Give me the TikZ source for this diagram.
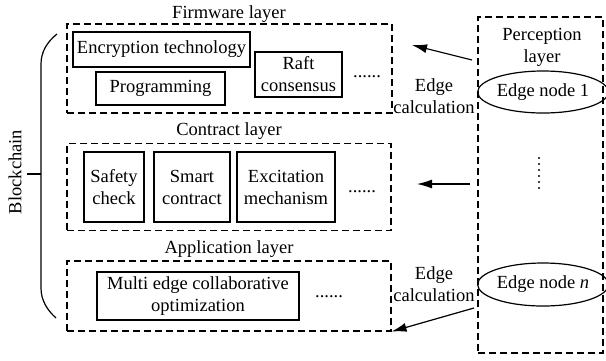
\documentclass[tikz,border=0pt]{standalone}
\usepackage{fontspec}
\setmainfont{Liberation Serif}
\usetikzlibrary{arrows.meta,shapes.geometric}
\begin{document}
\begin{tikzpicture}[x=1pt,y=-1pt,
  font=\fontsize{18.5}{22}\selectfont,
  layerbox/.style={draw, line width=1.1pt, dash pattern=on 7pt off 4pt, inner sep=0pt},
  itembox/.style={draw, line width=1.2pt, align=center, inner sep=0pt},
  edgenode/.style={draw, ellipse, line width=1.2pt, inner sep=0pt, minimum width=118pt, minimum height=42pt},
  lbl/.style={align=center, inner sep=0pt},
  arr/.style={line width=1.2pt, -{Latex[length=15pt,width=9pt]}},
  brace/.style={line width=1.2pt}
]
\useasboundingbox (0,0) rectangle (606,360);

% layer boxes
\node[layerbox, minimum width=325pt, minimum height=89pt] (fw) at (229.5,68.5) {};
\node[layerbox, minimum width=324pt, minimum height=87pt] (ct) at (229,187) {};
\node[layerbox, minimum width=324pt, minimum height=70pt] (ap) at (229,296) {};
\node[layerbox, minimum width=125pt, minimum height=336pt] (pc) at (540.5,185) {};

% layer titles
\node[lbl, anchor=base] (fwt) at (229,18) {Firmware layer};
\node[lbl, anchor=base] (ctt) at (229,135) {Contract layer};
\node[lbl, anchor=base] (apt) at (229,253) {Application layer};
\node[lbl] (pct) at (542,47) {Perception\\layer};

% firmware items
\node[itembox, minimum width=177pt, minimum height=35pt] (enc) at (161.5,49.5) {Encryption technology};
\node[itembox, minimum width=129pt, minimum height=33pt] (prog) at (160.5,88.5) {Programming};
\node[itembox, minimum width=87pt, minimum height=45pt] (raft) at (298.5,74.5) {Raft\\consensus};
\node[lbl] (d1) at (367,77) {......};

% contract items
\node[itembox, minimum width=60pt, minimum height=70pt] (safe) at (114,187) {Safety\\check};
\node[itembox, minimum width=76pt, minimum height=70pt] (smart) at (192,187) {Smart\\contract};
\node[itembox, minimum width=98pt, minimum height=70pt] (exc) at (286,187) {Excitation\\mechanism};
\node[lbl] (d2) at (362,192) {......};

% application items
\node[itembox, minimum width=202pt, minimum height=48pt] (multi) at (198,296) {Multi edge collaborative\\optimization};
\node[lbl] (d3) at (329,297) {......};

% perception items
\node[edgenode] (e1) at (543,92) {Edge node 1};
\node[edgenode, minimum height=43pt] (en) at (543,284.5) {Edge node \textit{n}};
\foreach \yy in {158,164,170,176,182,188} \fill (539,\yy) circle (1.1pt);

% edge calculation labels
\node[lbl] (ec1) at (434,96) {Edge\\calculation};
\node[lbl] (ec2) at (434,284) {Edge\\calculation};

% arrows
\coordinate (a1s) at (472,60);
\coordinate (a1e) at (412,45);
\coordinate (a2s) at (470,184);
\coordinate (a2e) at (417,184);
\coordinate (a3s) at (474,308);
\draw[arr] (a1s) -- (a1e);
\draw[arr] (a2s) -- (a2e);
\draw[arr] (a3s) -- (ap.south east);

% blockchain brace
\coordinate (bt) at (57,34);
\coordinate (bb) at (56,318);
\coordinate (bm) at (41,174);
\draw[brace] (bt) .. controls (47,42) and (41,52) .. (41,64) -- (41,288) .. controls (41,300) and (47,310) .. (bb);
\coordinate (bk) at (27,174);
\draw[brace] (bk) -- (bm);
\node[rotate=90, inner sep=0pt] (bc) at (15,172) {Blockchain};
\end{tikzpicture}
\end{document}
